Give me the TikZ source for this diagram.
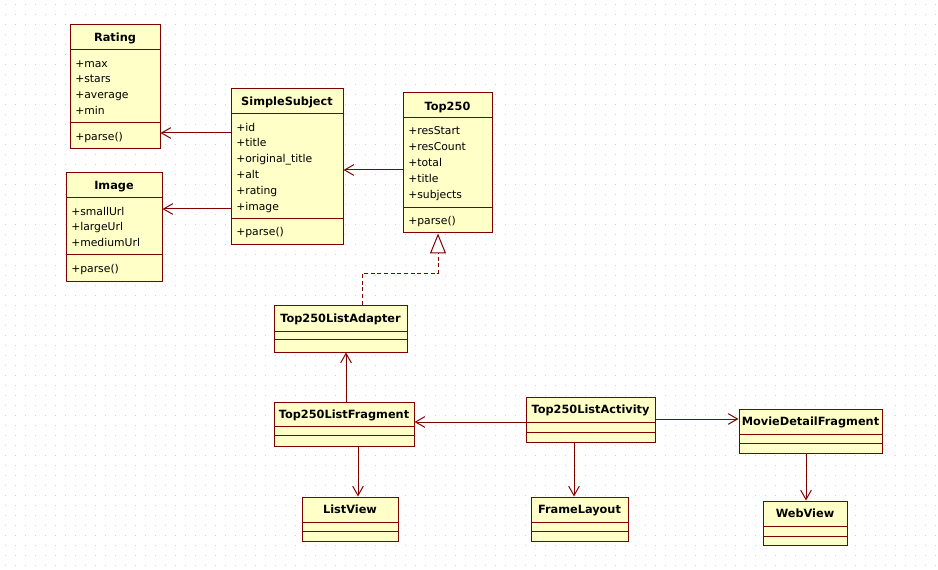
\documentclass[tikz,border=0pt]{standalone}
\usepackage{fontspec}
\setmainfont{DejaVu Sans}
\usepackage{tikz}
\usetikzlibrary{arrows.meta,fit}

\definecolor{umlred}{RGB}{128,0,0}
\definecolor{umlfill}{RGB}{255,255,200}

\tikzstyle{griddots} = [draw=gray!35, line width=0.75pt, dash pattern=on 0.75pt off 6.75pt]
\tikzstyle{classbox} = [draw=umlred, fill=umlfill, line width=0.75pt, inner sep=0pt]
\tikzstyle{sepline} = [draw=umlred, line width=0.75pt]
\tikzstyle{classname} = [font=\bfseries\fontsize{8.5}{10}\selectfont, inner sep=0pt, text height=1.6ex, text depth=0.35ex]
\tikzstyle{member} = [anchor=west, font=\fontsize{8.1}{10}\selectfont, inner sep=0pt, text height=1.5ex, text depth=0.35ex]
\tikzstyle{assoc} = [draw=umlred, line width=0.75pt, -{Straight Barb[length=7pt,width=8pt]}]
\tikzstyle{realize} = [draw=umlred, line width=0.75pt, dash pattern=on 3pt off 2pt, -{Triangle[open,length=15pt,width=12pt,fill=white]}]

\begin{document}
\begin{tikzpicture}[x=0.75pt, y=-0.75pt]
  \useasboundingbox (0,0) rectangle (938,570);
  \fill[white] (0,0) rectangle (938,570);
  \foreach \gy in {5,15,...,565}
    \draw[griddots] (5,\gy) -- (938,\gy);

  % Rating
  \node[classbox, fit={(70,25) (160,149)}] (rating) {};
  \draw[sepline] (rating.west |- 0,50) -- (rating.east |- 0,50);
  \draw[sepline] (rating.west |- 0,123) -- (rating.east |- 0,123);
  \node[classname] (rating-t) at (rating.north |- 0,37) {Rating};
  \foreach \m [count=\i from 0] in {+max,+stars,+average,+min}
    \node[member] (rating-a\i) at (75,63+15.8*\i) {\m};
  \node[member] (rating-p) at (75,136) {+parse()};

  % Image
  \node[classbox, fit={(66,173) (162,281)}] (image) {};
  \draw[sepline] (image.west |- 0,198) -- (image.east |- 0,198);
  \draw[sepline] (image.west |- 0,255) -- (image.east |- 0,255);
  \node[classname] (image-t) at (image.north |- 0,185) {Image};
  \foreach \m [count=\i from 0] in {+smallUrl,+largeUrl,+mediumUrl}
    \node[member] (image-a\i) at (71,211+15.8*\i) {\m};
  \node[member] (image-p) at (71,268) {+parse()};

  % SimpleSubject
  \node[classbox, fit={(231,89) (343,245)}] (simple) {};
  \draw[sepline] (simple.west |- 0,114) -- (simple.east |- 0,114);
  \draw[sepline] (simple.west |- 0,219) -- (simple.east |- 0,219);
  \node[classname] (simple-t) at (simple.north |- 0,101) {SimpleSubject};
  \foreach \m [count=\i from 0] in {+id,+title,+original\_title,+alt,+rating,+image}
    \node[member] (simple-a\i) at (236,127+15.8*\i) {\m};
  \node[member] (simple-p) at (236,231) {+parse()};

  % Top250
  \node[classbox, fit={(403,93) (492,233)}] (top) {};
  \draw[sepline] (top.west |- 0,118) -- (top.east |- 0,118);
  \draw[sepline] (top.west |- 0,208) -- (top.east |- 0,208);
  \node[classname] (top-t) at (top.north |- 0,106) {Top250};
  \foreach \m [count=\i from 0] in {+resStart,+resCount,+total,+title,+subjects}
    \node[member] (top-a\i) at (408,130+16*\i) {\m};
  \node[member] (top-p) at (408,220) {+parse()};

  % empty classes
  \node[classbox, fit={(274,305) (407,352)}] (adapter) {};
  \draw[sepline] (adapter.west |- 0,331) -- (adapter.east |- 0,331);
  \draw[sepline] (adapter.west |- 0,339) -- (adapter.east |- 0,339);
  \node[classname] (adapter-t) at (adapter.north |- 0,318) {Top250ListAdapter};

  \node[classbox, fit={(274,402) (414,446)}] (fragment) {};
  \draw[sepline] (fragment.west |- 0,426) -- (fragment.east |- 0,426);
  \draw[sepline] (fragment.west |- 0,435) -- (fragment.east |- 0,435);
  \node[classname] (fragment-t) at (fragment.north |- 0,414) {Top250ListFragment};

  \node[classbox, fit={(526,397) (655,442)}] (activity) {};
  \draw[sepline] (activity.west |- 0,422) -- (activity.east |- 0,422);
  \draw[sepline] (activity.west |- 0,432) -- (activity.east |- 0,432);
  \node[classname] (activity-t) at (activity.north |- 0,409) {Top250ListActivity};

  \node[classbox, fit={(739,409) (882,453)}] (detail) {};
  \draw[sepline] (detail.west |- 0,434) -- (detail.east |- 0,434);
  \draw[sepline] (detail.west |- 0,443) -- (detail.east |- 0,443);
  \node[classname] (detail-t) at (detail.north |- 0,421) {MovieDetailFragment};

  \node[classbox, fit={(302,497) (398,541)}] (listview) {};
  \draw[sepline] (listview.west |- 0,522) -- (listview.east |- 0,522);
  \draw[sepline] (listview.west |- 0,531) -- (listview.east |- 0,531);
  \node[classname] (listview-t) at (listview.north |- 0,509) {ListView};

  \node[classbox, fit={(531,497) (628,541)}] (frame) {};
  \draw[sepline] (frame.west |- 0,522) -- (frame.east |- 0,522);
  \draw[sepline] (frame.west |- 0,531) -- (frame.east |- 0,531);
  \node[classname] (frame-t) at (frame.north |- 0,509) {FrameLayout};

  \node[classbox, fit={(763,501) (847,545)}] (webview) {};
  \draw[sepline] (webview.west |- 0,526) -- (webview.east |- 0,526);
  \draw[sepline] (webview.west |- 0,536) -- (webview.east |- 0,536);
  \node[classname] (webview-t) at (webview.north |- 0,513) {WebView};

  % connectors
  \draw[assoc] (simple.west |- 0,133) -- (rating.east |- 0,133);
  \draw[assoc] (simple.west |- 0,209) -- (image.east |- 0,209);
  \draw[assoc] (top.west |- 0,170) -- (simple.east |- 0,170);
  \draw[realize] (adapter.north -| 362,0) |- (438,273) -- (top.south -| 438,0);
  \draw[assoc] (fragment.north -| 346,0) -- (adapter.south -| 346,0);
  \draw[assoc] (activity.west |- 0,422) -- (fragment.east |- 0,422);
  \draw[assoc] (activity.east |- 0,419) -- (detail.west |- 0,419);
  \draw[assoc] (fragment.south -| 358,0) -- (listview.north -| 358,0);
  \draw[assoc] (activity.south -| 574,0) -- (frame.north -| 574,0);
  \draw[assoc] (detail.south -| 806,0) -- (webview.north -| 806,0);

\end{tikzpicture}
\end{document}
